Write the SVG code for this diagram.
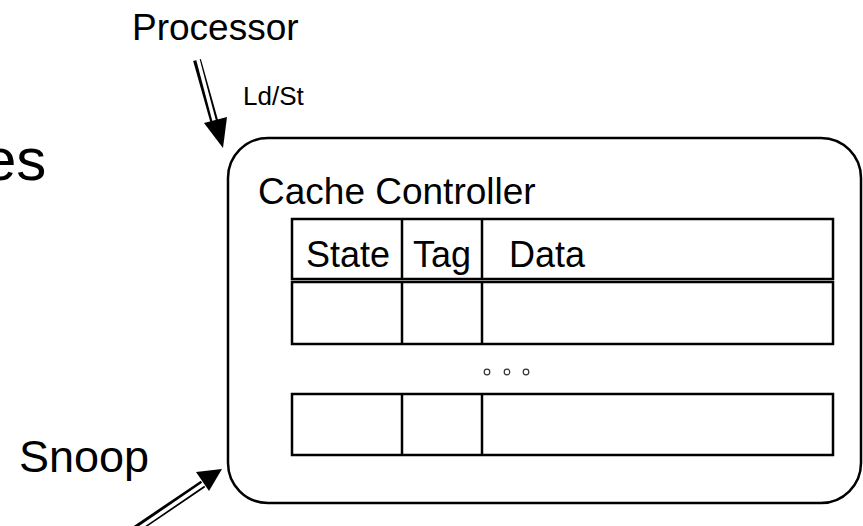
<svg xmlns="http://www.w3.org/2000/svg" width="863" height="526" viewBox="0 0 863 526">
<style>
.t{font-family:"Liberation Sans",Arial,sans-serif;fill:#000}
.box{fill:none;stroke:#000;stroke-width:2.5}
.cell{fill:none;stroke:#000;stroke-width:2.5}
.dl-out{stroke:#000;stroke-width:8;fill:none}
.dl-in{stroke:#fff;stroke-width:3.5;fill:none}
.head{fill:#000;stroke:none}
.dot{fill:none;stroke:#333;stroke-width:1.2}
</style>
<rect width="863" height="526" fill="#fff"/>
<text class="t" x="-17" y="180" font-size="60">es</text>
<g id="processor"><text class="t" x="132" y="40" font-size="37">Processor</text></g>
<g id="snoop"><text class="t" x="19" y="472" font-size="45">Snoop</text></g>
<g id="cache-controller">
<rect class="box" x="228" y="138" width="633" height="365" rx="40" ry="40"/>
<text class="t" x="258" y="204" font-size="37">Cache Controller</text>
<rect class="cell" x="292" y="219" width="541" height="60"/>
<line class="cell" x1="402" y1="219" x2="402" y2="279"/>
<line class="cell" x1="482" y1="219" x2="482" y2="279"/>
<text class="t" x="306" y="267" font-size="36">State</text>
<text class="t" x="413" y="267" font-size="36">Tag</text>
<text class="t" x="509" y="267" font-size="36">Data</text>
<rect class="cell" x="292" y="282" width="541" height="62"/>
<line class="cell" x1="402" y1="282" x2="402" y2="344"/>
<line class="cell" x1="482" y1="282" x2="482" y2="344"/>
<circle class="dot" cx="487" cy="372" r="2.8"/>
<circle class="dot" cx="507" cy="372" r="2.8"/>
<circle class="dot" cx="526" cy="372" r="2.8"/>
<rect class="cell" x="292" y="394" width="541" height="61"/>
<line class="cell" x1="402" y1="394" x2="402" y2="455"/>
<line class="cell" x1="482" y1="394" x2="482" y2="455"/>
</g>
<g id="connectors">
<g id="ldst">
<line class="dl-out" x1="197" y1="60" x2="215" y2="124"/>
<line class="dl-in" x1="197" y1="56" x2="215.5" y2="126"/>
<polygon class="head" points="223,148 204,123 227,117"/>
<text class="t" x="243" y="105" font-size="26">Ld/St</text>
</g>
<g id="snoop-arrow">
<line class="dl-out" x1="135" y1="530" x2="203" y2="484"/>
<line class="dl-in" x1="132" y1="533" x2="205" y2="483"/>
<polygon class="head" points="222,469 196,472 209,491"/>
</g>
</g>
</svg>
